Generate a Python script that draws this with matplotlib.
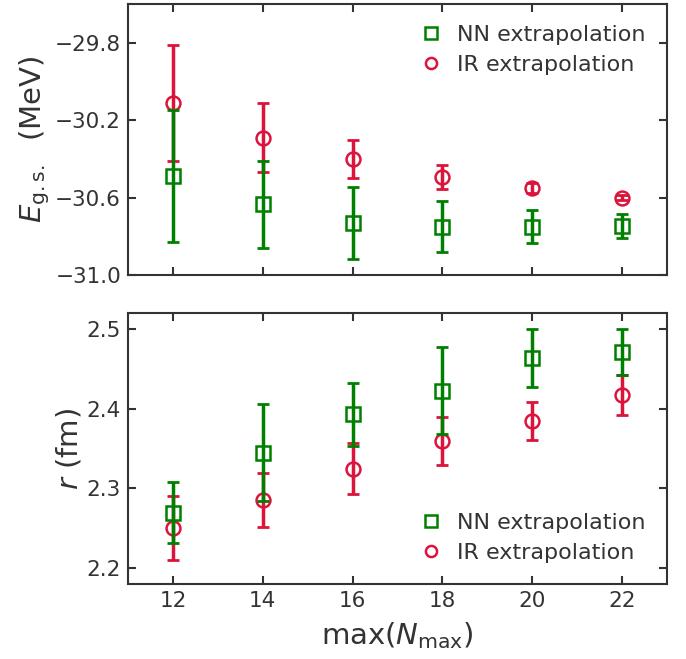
import matplotlib
matplotlib.use("Agg")
import matplotlib.pyplot as plt
import numpy as np

nmax = [12, 14, 16, 18, 20, 22]

e_nn = [-30.49, -30.635, -30.73, -30.75, -30.75, -30.745]
e_nn_err = [0.34, 0.225, 0.187, 0.13, 0.085, 0.062]
e_ir = [-30.11, -30.29, -30.40, -30.494, -30.551, -30.60]
e_ir_err = [0.30, 0.18, 0.10, 0.062, 0.025, 0.014]

r_nn = [2.2695, 2.345, 2.393, 2.423, 2.464, 2.471]
r_nn_err = [0.038, 0.061, 0.040, 0.055, 0.036, 0.029]
r_ir = [2.250, 2.285, 2.325, 2.360, 2.385, 2.4175]
r_ir_err = [0.040, 0.034, 0.032, 0.030, 0.024, 0.025]

green = "#008000"
red = "#DC143C"
txt = "#333333"

plt.rcParams.update({
    "font.family": ["DejaVu Sans"],
    "text.color": txt,
    "axes.labelcolor": txt,
    "xtick.color": txt,
    "ytick.color": txt,
    "axes.edgecolor": txt,
    "mathtext.fontset": "dejavusans",
})

fig = plt.figure(figsize=(6.86, 6.59), dpi=100)
ax1 = fig.add_axes([0.1866, 0.5827, 0.7857, 0.4112])
ax2 = fig.add_axes([0.1866, 0.1138, 0.7857, 0.4108])

def draw(ax, y_nn, err_nn, y_ir, err_ir):
    ax.errorbar(nmax, y_ir, yerr=err_ir, fmt="none", ecolor=red, elinewidth=2.5,
                capsize=4, capthick=2)
    ax.plot(nmax, y_ir, "o", ms=10, mfc="none", mec=red, mew=1.8, ls="none")
    ax.errorbar(nmax, y_nn, yerr=err_nn, fmt="none", ecolor=green, elinewidth=2.5,
                capsize=4, capthick=2)
    ax.plot(nmax, y_nn, "s", ms=10, mfc="none", mec=green, mew=1.8, ls="none")
    h1, = ax.plot([], [], "s", ms=8, mfc="none", mec=green, mew=1.8, ls="none",
                  label="NN extrapolation")
    h2, = ax.plot([], [], "o", ms=8, mfc="none", mec=red, mew=1.8, ls="none",
                  label="IR extrapolation")
    for s in ax.spines.values():
        s.set_linewidth(1.5)
    ax.tick_params(direction="in", length=6, width=1.5, top=True, right=True,
                   labelsize=15.5, pad=5)
    ax.set_xlim(11, 23)
    ax.set_xticks(nmax)
    return [h1, h2]

hs = draw(ax1, e_nn, e_nn_err, e_ir, e_ir_err)
ax1.set_ylim(-31.0, -29.6)
ax1.set_yticks([-31.0, -30.6, -30.2, -29.8])
ax1.set_yticklabels(["\u221231.0", "\u221230.6", "\u221230.2", "\u221229.8"])
ax1.tick_params(labelbottom=False)
ax1.set_ylabel(r"$E_{\mathrm{g.s.}}$  (MeV)", fontsize=21, labelpad=2)
ax1.legend(handles=hs, loc="upper right", frameon=False, fontsize=16,
           handletextpad=0.45, labelspacing=0.45, handlelength=1.5,
           borderaxespad=0.55)

hs2 = draw(ax2, r_nn, r_nn_err, r_ir, r_ir_err)
ax2.set_ylim(2.18, 2.52)
ax2.set_yticks([2.2, 2.3, 2.4, 2.5])
ax2.set_ylabel(r"$r$ (fm)", fontsize=21, labelpad=2)
ax2.set_xlabel(r"max($N_{\mathrm{max}}$)", fontsize=21, labelpad=7)
ax2.legend(handles=hs2, loc="lower right", frameon=False, fontsize=16,
           handletextpad=0.45, labelspacing=0.45, handlelength=1.5,
           borderaxespad=0.55)

fig.savefig("out.png", dpi=100)
